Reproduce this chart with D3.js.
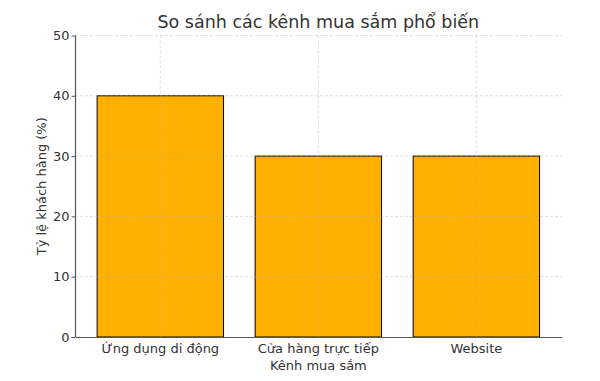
<!DOCTYPE html>
<html>
<head>
<meta charset="utf-8">
<script src="https://cdn.jsdelivr.net/npm/d3@7"></script>
<style>
  body { margin: 0; background: #fff; }
  svg { font-family: 'DejaVu Sans', sans-serif; }
</style>
</head>
<body>
<svg id="chart" width="600" height="381"></svg>
<script>
const categories = ['Ứng dụng di động', 'Cửa hàng trực tiếp', 'Website'];
const values = [40, 30, 30];
const yTicks = [0, 10, 20, 30, 40, 50];

const svg = d3.select('#chart');
const width = 600, height = 381;
const margin = { left: 75, right: 38.3, top: 35.5, bottom: 44 };

const x = d3.scaleBand()
  .domain(categories)
  .range([margin.left, width - margin.right])
  .paddingInner(0.2)
  .paddingOuter(0.14);

const y = d3.scaleLinear()
  .domain([0, 50])
  .range([height - margin.bottom, margin.top]);

// bars
svg.append('g')
  .selectAll('rect').data(values).enter().append('rect')
  .attr('x', (d, i) => x(categories[i]))
  .attr('y', d => y(d))
  .attr('width', x.bandwidth())
  .attr('height', d => y(0) - y(d))
  .attr('fill', '#ffb000')
  .attr('stroke', '#000')
  .attr('stroke-width', 1);

// grid (drawn over bars like the original)
const grid = svg.append('g')
  .attr('stroke', '#b0b0b0')
  .attr('stroke-opacity', 0.5)
  .attr('stroke-dasharray', '3,2')
  .attr('stroke-width', 0.8);
grid.selectAll('line.h').data(yTicks.slice(1)).enter().append('line')
  .attr('x1', margin.left).attr('x2', width - margin.right)
  .attr('y1', d => y(d)).attr('y2', d => y(d));
grid.selectAll('line.v').data(categories).enter().append('line')
  .attr('x1', d => x(d) + x.bandwidth() / 2).attr('x2', d => x(d) + x.bandwidth() / 2)
  .attr('y1', margin.top).attr('y2', height - margin.bottom);

// axes
const xAxis = d3.axisBottom(x).tickSize(0).tickPadding(7);
const yAxis = d3.axisLeft(y).tickValues(yTicks).tickSize(3.5).tickPadding(2);

const gx = svg.append('g')
  .attr('transform', `translate(0,${height - margin.bottom})`)
  .call(xAxis)
  .attr('font-family', null)
  .attr('font-size', 13);
gx.select('.domain').attr('stroke', '#555').attr('stroke-width', 1.2);
gx.selectAll('text').attr('fill', '#333').attr('dy', '0.71em');

const gy = svg.append('g')
  .attr('transform', `translate(${margin.left},0)`)
  .call(yAxis)
  .attr('font-family', null)
  .attr('font-size', 13);
gy.select('.domain').attr('stroke', '#555').attr('stroke-width', 1.2).attr('d', `M0.5,${y(50)}V${y(0)}`);
gy.selectAll('.tick line').attr('stroke', '#555');
gy.selectAll('text').attr('fill', '#333');

// labels
svg.append('text')
  .attr('x', (margin.left + width - margin.right) / 2)
  .attr('y', 28)
  .attr('text-anchor', 'middle')
  .attr('fill', '#333')
  .style('font-size', '17.5px')
  .text('So sánh các kênh mua sắm phổ biến');

svg.append('text')
  .attr('x', (margin.left + width - margin.right) / 2)
  .attr('y', 370)
  .attr('text-anchor', 'middle')
  .attr('fill', '#333')
  .style('font-size', '13px')
  .text('Kênh mua sắm');

svg.append('text')
  .attr('transform', `translate(46,${(margin.top + height - margin.bottom) / 2}) rotate(-90)`)
  .attr('text-anchor', 'middle')
  .attr('fill', '#333')
  .style('font-size', '13px')
  .text('Tỷ lệ khách hàng (%)');
</script>
</body>
</html>
